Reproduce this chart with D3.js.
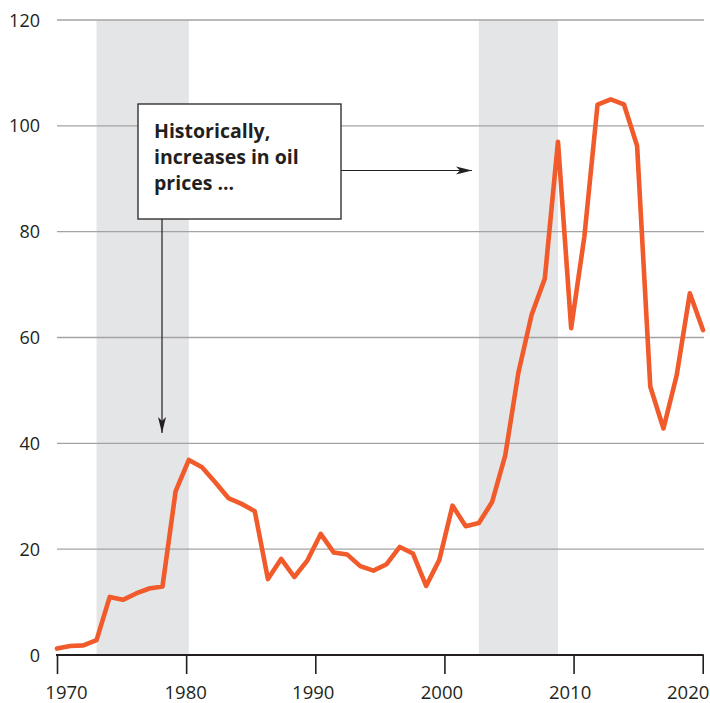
<!DOCTYPE html>
<html>
<head>
<meta charset="utf-8">
<script src="https://cdn.jsdelivr.net/npm/d3@7"></script>
<style>
  body { margin: 0; background: #fff; }
  svg text { font-family: "Open Sans", sans-serif; fill: #231f20; }
</style>
</head>
<body>
<div id="chart"></div>
<script>

// annual average crude oil price, US$ per barrel
const years = d3.range(1970, 2020);
const prices = [1.21, 1.69, 1.82, 2.81, 10.97, 10.43, 11.63, 12.57, 12.93, 30.97,
    36.87, 35.48, 32.65, 29.66, 28.56, 27.18, 14.35, 18.16, 14.74, 17.89,
    22.88, 19.36, 19.01, 16.79, 15.95, 17.16, 20.42, 19.17, 13.07, 17.98,
    28.23, 24.35, 24.93, 28.90, 37.73, 53.39, 64.29, 71.12, 96.99, 61.76,
    79.04, 104.01, 105.01, 104.07, 96.24, 50.75, 42.81, 52.81, 68.35, 61.41];

// shaded periods
const bands = [[1973, 1980], [2002, 2008]];

const yTicks = [0, 20, 40, 60, 80, 100, 120];
const xTicks = [1970, 1980, 1990, 2000, 2010, 2020];

const annoLines = ["Historically,", "increases in oil", "prices ..."];

const width = 710, height = 703;
const margin = {top: 20, right: 6, bottom: 48, left: 57};

// small nudges the original applied to the year labels
const labelShift = {1970: 9, 1980: -1, 1990: -2.5, 2000: -3, 2010: -4, 2020: -15};

const svg = d3.select("#chart").append("svg")
    .attr("width", width)
    .attr("height", height);

// data positions and axis positions don't line up exactly in the original
let x = d3.scaleLinear()
    .domain([1970, 2019])
    .range([margin.left, width - 7]);
let xAxisScale = d3.scaleLinear()
    .domain([1970, 2020])
    .range([margin.left, width - 7.3]);

let y = d3.scaleLinear()
    .domain([0, 120])
    .range([height - margin.bottom, margin.top]);

// shaded bands
svg.append("g").selectAll("rect")
    .data(bands)
    .enter().append("rect")
    .attr("x", d => x(d[0]))
    .attr("width", d => x(d[1]) - x(d[0]))
    .attr("y", y(120))
    .attr("height", y(0) - y(120))
    .attr("fill", "#e4e5e7");

// gridlines
svg.append("g").selectAll("line")
    .data(yTicks.filter(d => d > 0))
    .enter().append("line")
    .attr("x1", margin.left)
    .attr("x2", width - 6)
    .attr("y1", d => y(d))
    .attr("y2", d => y(d))
    .attr("stroke", "#a3a3a3")
    .attr("stroke-width", 1.3);

// y labels
svg.append("g").selectAll("text")
    .data(yTicks)
    .enter().append("text")
    .attr("x", 40)
    .attr("y", d => y(d))
    .attr("dy", "0.37em")
    .attr("text-anchor", "end")
    .style("font-size", "18px")
    .text(d => d);

// x axis
let xAxis = d3.axisBottom(xAxisScale)
    .tickValues(xTicks)
    .tickFormat(d3.format("d"))
    .tickSize(19)
    .tickPadding(12);

let gx = svg.append("g")
    .attr("transform", "translate(0," + y(0) + ")")
    .call(xAxis);
gx.select(".domain").remove();
gx.selectAll(".tick line").attr("stroke", "#231f20").attr("stroke-width", 1.6);
gx.selectAll(".tick text")
    .style("font-size", "18.5px")
    .attr("fill", "#231f20")
    .attr("dx", d => labelShift[d]);
gx.append("line")
    .attr("x1", margin.left - 1)
    .attr("x2", xAxisScale(2020) + 1)
    .attr("stroke", "#231f20")
    .attr("stroke-width", 2.2);

// price line
let line = d3.line()
    .x((d, i) => x(years[i]))
    .y(d => y(d));

svg.append("path")
    .datum(prices)
    .attr("fill", "none")
    .attr("stroke", "#f15a2b")
    .attr("stroke-width", 4.6)
    .attr("stroke-linejoin", "round")
    .attr("stroke-linecap", "round")
    .attr("d", line);

// arrow marker
svg.append("defs").append("marker")
    .attr("id", "arrow")
    .attr("viewBox", "0 0 16 10")
    .attr("refX", 16)
    .attr("refY", 5)
    .attr("markerWidth", 16)
    .attr("markerHeight", 10)
    .attr("markerUnits", "userSpaceOnUse")
    .attr("orient", "auto")
    .append("path")
    .attr("d", "M0,1 L16,5 L0,9 L4,5 Z")
    .attr("fill", "#231f20");

// annotation
const box = {x: 138, y: 104, w: 203, h: 115};

svg.append("line")
    .attr("x1", 162)
    .attr("x2", 162)
    .attr("y1", box.y + box.h)
    .attr("y2", 433)
    .attr("stroke", "#231f20")
    .attr("stroke-width", 1.2)
    .attr("marker-end", "url(#arrow)");

svg.append("line")
    .attr("x1", box.x + box.w)
    .attr("x2", 472)
    .attr("y1", 170.5)
    .attr("y2", 170.5)
    .attr("stroke", "#231f20")
    .attr("stroke-width", 1.2)
    .attr("marker-end", "url(#arrow)");

svg.append("rect")
    .attr("x", box.x)
    .attr("y", box.y)
    .attr("width", box.w)
    .attr("height", box.h)
    .attr("fill", "#fff")
    .attr("stroke", "#333")
    .attr("stroke-width", 1.4);

svg.append("text")
    .attr("x", 154)
    .attr("y", 138)
    .style("font-size", "19.5px")
    .style("font-weight", "bold")
    .selectAll("tspan")
    .data(annoLines)
    .enter().append("tspan")
    .attr("x", 154)
    .attr("dy", (d, i) => i === 0 ? 0 : 26)
    .text(d => d);

</script>
</body>
</html>
